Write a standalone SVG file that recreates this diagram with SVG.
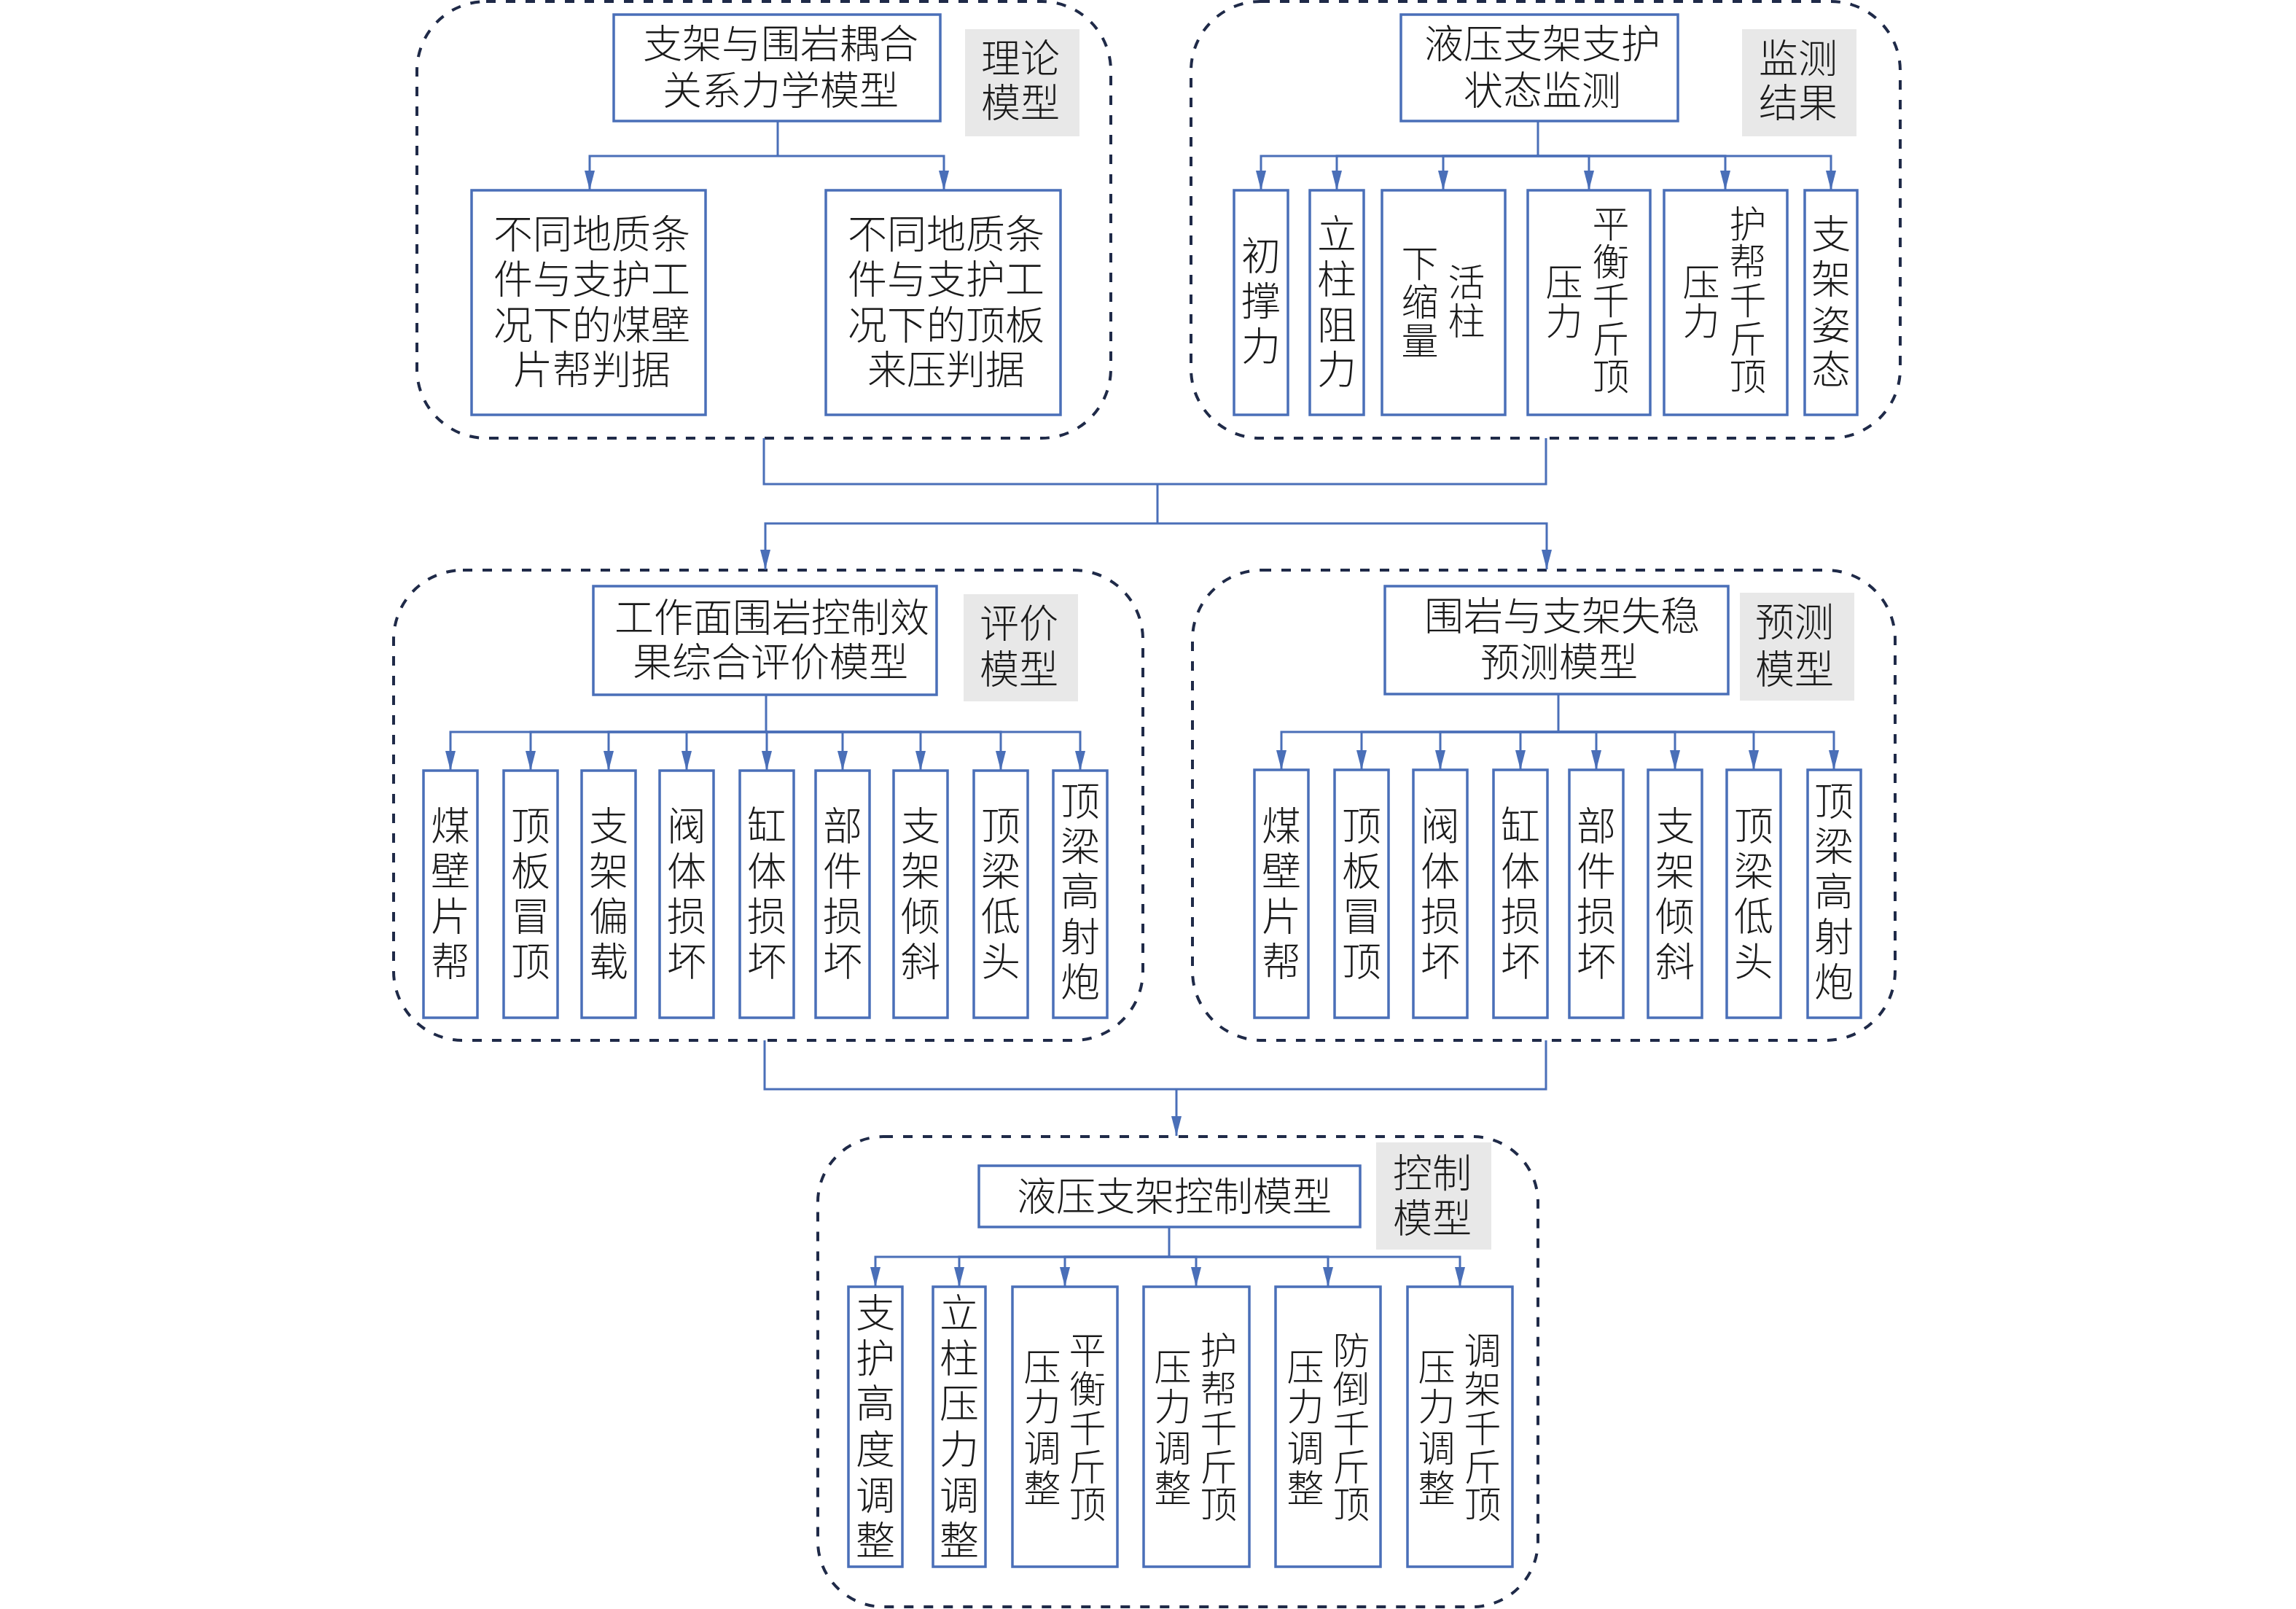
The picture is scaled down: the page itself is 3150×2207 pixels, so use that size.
<svg xmlns="http://www.w3.org/2000/svg" width="3150" height="2207" viewBox="0 0 3150 2207">
<defs>
<marker id="arr" markerUnits="userSpaceOnUse" viewBox="0 0 27 14" markerWidth="27" markerHeight="14" refX="27" refY="7" orient="auto"><path d="M0,0 L27,7 L0,14 z" fill="#4a6fb8"/></marker>
</defs>
<style>
.panel{fill:none;stroke:#1f2a48;stroke-width:4;stroke-dasharray:13 14}
.box{fill:#fff;stroke:#4a6fb8;stroke-width:3.5}
.tag{fill:#e8e8e8;stroke:none}
.t{font-family:"Liberation Sans","Noto Sans CJK SC","Noto Sans CJK JP",sans-serif;font-size:54px;font-weight:300;fill:#1a1a1a;text-anchor:middle;dominant-baseline:central}
.s{font-size:51px}
.conn path{fill:none;stroke:#4a6fb8;stroke-width:3}
.conn path.a{marker-end:url(#arr)}
</style>
<rect width="3150" height="2207" fill="#fff"/>

<g id="panel-theory">
<rect class="panel" x="572" y="2" width="952" height="599" rx="95"/>
<rect class="tag" x="1324" y="40" width="157" height="147"/>
<text class="t"><tspan x="1400" y="81">理论</tspan><tspan x="1400" y="142">模型</tspan></text>
</g>
<g id="n-coupling">
<rect class="box" x="842" y="20" width="448" height="146"/>
<text class="t"><tspan x="1071" y="61">支架与围岩耦合</tspan><tspan x="1071" y="125">关系力学模型</tspan></text>
</g>
<g id="n-rib">
<rect class="box" x="647" y="261" width="321" height="308"/>
<text class="t"><tspan x="812" y="322">不同地质条</tspan><tspan x="812" y="384">件与支护工</tspan><tspan x="812" y="447">况下的煤壁</tspan><tspan x="812" y="508">片帮判据</tspan></text>
</g>
<g id="n-roof">
<rect class="box" x="1133" y="261" width="322" height="308"/>
<text class="t"><tspan x="1298" y="322">不同地质条</tspan><tspan x="1298" y="384">件与支护工</tspan><tspan x="1298" y="447">况下的顶板</tspan><tspan x="1298" y="508">来压判据</tspan></text>
</g>

<g id="panel-monitor">
<rect class="panel" x="1634" y="2" width="973" height="599" rx="95"/>
<rect class="tag" x="2390" y="40" width="157" height="147"/>
<text class="t"><tspan x="2467" y="81">监测</tspan><tspan x="2467" y="142">结果</tspan></text>
</g>
<g id="n-monitor">
<rect class="box" x="1922" y="20" width="380" height="146"/>
<text class="t"><tspan x="2116" y="61">液压支架支护</tspan><tspan x="2116" y="125">状态监测</tspan></text>
</g>
<g id="n-m1">
<rect class="box" x="1693" y="261" width="74" height="308"/>
<text class="t"><tspan x="1730" y="352">初</tspan><tspan x="1730" y="414">撑</tspan><tspan x="1730" y="476">力</tspan></text>
</g>
<g id="n-m2">
<rect class="box" x="1797" y="261" width="74" height="308"/>
<text class="t"><tspan x="1834" y="322">立</tspan><tspan x="1834" y="384">柱</tspan><tspan x="1834" y="447">阻</tspan><tspan x="1834" y="508">力</tspan></text>
</g>
<g id="n-m3">
<rect class="box" x="1896" y="261" width="169" height="308"/>
<text class="t s"><tspan x="2012" y="388">活</tspan><tspan x="2012" y="441">柱</tspan><tspan x="1948" y="362">下</tspan><tspan x="1948" y="415">缩</tspan><tspan x="1948" y="468">量</tspan></text>
</g>
<g id="n-m4">
<rect class="box" x="2096" y="261" width="168" height="308"/>
<text class="t s"><tspan x="2210" y="308">平</tspan><tspan x="2210" y="360">衡</tspan><tspan x="2210" y="413">千</tspan><tspan x="2210" y="466">斤</tspan><tspan x="2210" y="517">顶</tspan><tspan x="2146" y="388">压</tspan><tspan x="2146" y="441">力</tspan></text>
</g>
<g id="n-m5">
<rect class="box" x="2283" y="261" width="169" height="308"/>
<text class="t s"><tspan x="2398" y="308">护</tspan><tspan x="2398" y="360">帮</tspan><tspan x="2398" y="413">千</tspan><tspan x="2398" y="466">斤</tspan><tspan x="2398" y="517">顶</tspan><tspan x="2334" y="388">压</tspan><tspan x="2334" y="441">力</tspan></text>
</g>
<g id="n-m6">
<rect class="box" x="2476" y="261" width="72" height="308"/>
<text class="t"><tspan x="2512" y="322">支</tspan><tspan x="2512" y="384">架</tspan><tspan x="2512" y="447">姿</tspan><tspan x="2512" y="508">态</tspan></text>
</g>

<g id="panel-eval">
<rect class="panel" x="540" y="782" width="1028" height="645" rx="95"/>
<rect class="tag" x="1322" y="815" width="157" height="147"/>
<text class="t"><tspan x="1398" y="856">评价</tspan><tspan x="1398" y="919">模型</tspan></text>
</g>
<g id="n-eval">
<rect class="box" x="814" y="804" width="471" height="149"/>
<text class="t"><tspan x="1059" y="848">工作面围岩控制效</tspan><tspan x="1057" y="909">果综合评价模型</tspan></text>
</g>
<g id="n-e1"><rect class="box" x="581" y="1057" width="74" height="339"/>
<text class="t"><tspan x="618" y="1134">煤</tspan><tspan x="618" y="1196">壁</tspan><tspan x="618" y="1258">片</tspan><tspan x="618" y="1320">帮</tspan></text></g>
<g id="n-e2"><rect class="box" x="691" y="1057" width="74" height="339"/>
<text class="t"><tspan x="728" y="1134">顶</tspan><tspan x="728" y="1196">板</tspan><tspan x="728" y="1258">冒</tspan><tspan x="728" y="1320">顶</tspan></text></g>
<g id="n-e3"><rect class="box" x="798" y="1057" width="74" height="339"/>
<text class="t"><tspan x="835" y="1134">支</tspan><tspan x="835" y="1196">架</tspan><tspan x="835" y="1258">偏</tspan><tspan x="835" y="1320">载</tspan></text></g>
<g id="n-e4"><rect class="box" x="905" y="1057" width="74" height="339"/>
<text class="t"><tspan x="942" y="1134">阀</tspan><tspan x="942" y="1196">体</tspan><tspan x="942" y="1258">损</tspan><tspan x="942" y="1320">坏</tspan></text></g>
<g id="n-e5"><rect class="box" x="1015" y="1057" width="74" height="339"/>
<text class="t"><tspan x="1052" y="1134">缸</tspan><tspan x="1052" y="1196">体</tspan><tspan x="1052" y="1258">损</tspan><tspan x="1052" y="1320">坏</tspan></text></g>
<g id="n-e6"><rect class="box" x="1119" y="1057" width="74" height="339"/>
<text class="t"><tspan x="1156" y="1134">部</tspan><tspan x="1156" y="1196">件</tspan><tspan x="1156" y="1258">损</tspan><tspan x="1156" y="1320">坏</tspan></text></g>
<g id="n-e7"><rect class="box" x="1226" y="1057" width="74" height="339"/>
<text class="t"><tspan x="1263" y="1134">支</tspan><tspan x="1263" y="1196">架</tspan><tspan x="1263" y="1258">倾</tspan><tspan x="1263" y="1320">斜</tspan></text></g>
<g id="n-e8"><rect class="box" x="1336" y="1057" width="74" height="339"/>
<text class="t"><tspan x="1373" y="1134">顶</tspan><tspan x="1373" y="1196">梁</tspan><tspan x="1373" y="1258">低</tspan><tspan x="1373" y="1320">头</tspan></text></g>
<g id="n-e9"><rect class="box" x="1445" y="1057" width="74" height="339"/>
<text class="t"><tspan x="1482" y="1100">顶</tspan><tspan x="1482" y="1162">梁</tspan><tspan x="1482" y="1224">高</tspan><tspan x="1482" y="1286">射</tspan><tspan x="1482" y="1348">炮</tspan></text></g>

<g id="panel-predict">
<rect class="panel" x="1636" y="782" width="964" height="645" rx="95"/>
<rect class="tag" x="2387" y="813" width="157" height="148"/>
<text class="t"><tspan x="2462" y="854">预测</tspan><tspan x="2462" y="919">模型</tspan></text>
</g>
<g id="n-predict">
<rect class="box" x="1900" y="804" width="471" height="148"/>
<text class="t"><tspan x="2143" y="846">围岩与支架失稳</tspan><tspan x="2139" y="909">预测模型</tspan></text>
</g>
<g id="n-p1"><rect class="box" x="1721" y="1056" width="74" height="340"/>
<text class="t"><tspan x="1758" y="1134">煤</tspan><tspan x="1758" y="1196">壁</tspan><tspan x="1758" y="1258">片</tspan><tspan x="1758" y="1320">帮</tspan></text></g>
<g id="n-p2"><rect class="box" x="1831" y="1056" width="74" height="340"/>
<text class="t"><tspan x="1868" y="1134">顶</tspan><tspan x="1868" y="1196">板</tspan><tspan x="1868" y="1258">冒</tspan><tspan x="1868" y="1320">顶</tspan></text></g>
<g id="n-p3"><rect class="box" x="1939" y="1056" width="74" height="340"/>
<text class="t"><tspan x="1976" y="1134">阀</tspan><tspan x="1976" y="1196">体</tspan><tspan x="1976" y="1258">损</tspan><tspan x="1976" y="1320">坏</tspan></text></g>
<g id="n-p4"><rect class="box" x="2049" y="1056" width="74" height="340"/>
<text class="t"><tspan x="2086" y="1134">缸</tspan><tspan x="2086" y="1196">体</tspan><tspan x="2086" y="1258">损</tspan><tspan x="2086" y="1320">坏</tspan></text></g>
<g id="n-p5"><rect class="box" x="2153" y="1056" width="74" height="340"/>
<text class="t"><tspan x="2190" y="1134">部</tspan><tspan x="2190" y="1196">件</tspan><tspan x="2190" y="1258">损</tspan><tspan x="2190" y="1320">坏</tspan></text></g>
<g id="n-p6"><rect class="box" x="2261" y="1056" width="74" height="340"/>
<text class="t"><tspan x="2298" y="1134">支</tspan><tspan x="2298" y="1196">架</tspan><tspan x="2298" y="1258">倾</tspan><tspan x="2298" y="1320">斜</tspan></text></g>
<g id="n-p7"><rect class="box" x="2369" y="1056" width="74" height="340"/>
<text class="t"><tspan x="2406" y="1134">顶</tspan><tspan x="2406" y="1196">梁</tspan><tspan x="2406" y="1258">低</tspan><tspan x="2406" y="1320">头</tspan></text></g>
<g id="n-p8"><rect class="box" x="2480" y="1056" width="73" height="340"/>
<text class="t"><tspan x="2516" y="1100">顶</tspan><tspan x="2516" y="1162">梁</tspan><tspan x="2516" y="1224">高</tspan><tspan x="2516" y="1286">射</tspan><tspan x="2516" y="1348">炮</tspan></text></g>

<g id="panel-control">
<rect class="panel" x="1122" y="1559" width="988" height="645" rx="90"/>
<rect class="tag" x="1888" y="1567" width="158" height="147"/>
<text class="t"><tspan x="1965" y="1610">控制</tspan><tspan x="1965" y="1672">模型</tspan></text>
</g>
<g id="n-control">
<rect class="box" x="1343" y="1599" width="523" height="84"/>
<text class="t" x="1611" y="1642">液压支架控制模型</text>
</g>
<g id="n-c1"><rect class="box" x="1164" y="1765" width="74" height="384"/>
<text class="t"><tspan x="1201" y="1802">支</tspan><tspan x="1201" y="1864">护</tspan><tspan x="1201" y="1926">高</tspan><tspan x="1201" y="1989">度</tspan><tspan x="1201" y="2052">调</tspan><tspan x="1201" y="2114">整</tspan></text></g>
<g id="n-c2"><rect class="box" x="1280" y="1765" width="72" height="384"/>
<text class="t"><tspan x="1316" y="1802">立</tspan><tspan x="1316" y="1864">柱</tspan><tspan x="1316" y="1926">压</tspan><tspan x="1316" y="1989">力</tspan><tspan x="1316" y="2052">调</tspan><tspan x="1316" y="2114">整</tspan></text></g>
<g id="n-c3"><rect class="box" x="1389" y="1765" width="144" height="384"/>
<text class="t s"><tspan x="1492" y="1853">平</tspan><tspan x="1492" y="1906">衡</tspan><tspan x="1492" y="1960">千</tspan><tspan x="1492" y="2013">斤</tspan><tspan x="1492" y="2064">顶</tspan><tspan x="1430" y="1876">压</tspan><tspan x="1430" y="1930">力</tspan><tspan x="1430" y="1987">调</tspan><tspan x="1430" y="2042">整</tspan></text></g>
<g id="n-c4"><rect class="box" x="1569" y="1765" width="145" height="384"/>
<text class="t s"><tspan x="1672" y="1853">护</tspan><tspan x="1672" y="1906">帮</tspan><tspan x="1672" y="1960">千</tspan><tspan x="1672" y="2013">斤</tspan><tspan x="1672" y="2064">顶</tspan><tspan x="1609" y="1876">压</tspan><tspan x="1609" y="1930">力</tspan><tspan x="1609" y="1987">调</tspan><tspan x="1609" y="2042">整</tspan></text></g>
<g id="n-c5"><rect class="box" x="1750" y="1765" width="144" height="384"/>
<text class="t s"><tspan x="1854" y="1853">防</tspan><tspan x="1854" y="1906">倒</tspan><tspan x="1854" y="1960">千</tspan><tspan x="1854" y="2013">斤</tspan><tspan x="1854" y="2064">顶</tspan><tspan x="1791" y="1876">压</tspan><tspan x="1791" y="1930">力</tspan><tspan x="1791" y="1987">调</tspan><tspan x="1791" y="2042">整</tspan></text></g>
<g id="n-c6"><rect class="box" x="1931" y="1765" width="144" height="384"/>
<text class="t s"><tspan x="2034" y="1853">调</tspan><tspan x="2034" y="1906">架</tspan><tspan x="2034" y="1960">千</tspan><tspan x="2034" y="2013">斤</tspan><tspan x="2034" y="2064">顶</tspan><tspan x="1971" y="1876">压</tspan><tspan x="1971" y="1930">力</tspan><tspan x="1971" y="1987">调</tspan><tspan x="1971" y="2042">整</tspan></text></g>

<g class="conn" id="connectors">
<path d="M1067,166 V214"/>
<path class="a" d="M1067,214 H809 V261"/>
<path class="a" d="M1067,214 H1295 V261"/>

<path d="M2110,166 V214"/>
<path class="a" d="M2110,214 H1730 V261"/>
<path class="a" d="M2110,214 H1834 V261"/>
<path class="a" d="M2110,214 H1980 V261"/>
<path class="a" d="M2110,214 H2180 V261"/>
<path class="a" d="M2110,214 H2367 V261"/>
<path class="a" d="M2110,214 H2512 V261"/>

<path d="M1048,601 V664 H2121 V601"/>
<path d="M1588,664 V718"/>
<path class="a" d="M1588,718 H1050 V781"/>
<path class="a" d="M1588,718 H2122 V781"/>

<path d="M1051,953 V1004"/>
<path class="a" d="M1051,1004 H618 V1057"/>
<path class="a" d="M1051,1004 H728 V1057"/>
<path class="a" d="M1051,1004 H835 V1057"/>
<path class="a" d="M1051,1004 H942 V1057"/>
<path class="a" d="M1051,1004 H1052 V1057"/>
<path class="a" d="M1051,1004 H1156 V1057"/>
<path class="a" d="M1051,1004 H1263 V1057"/>
<path class="a" d="M1051,1004 H1373 V1057"/>
<path class="a" d="M1051,1004 H1482 V1057"/>

<path d="M2138,952 V1004"/>
<path class="a" d="M2138,1004 H1758 V1056"/>
<path class="a" d="M2138,1004 H1868 V1056"/>
<path class="a" d="M2138,1004 H1976 V1056"/>
<path class="a" d="M2138,1004 H2086 V1056"/>
<path class="a" d="M2138,1004 H2190 V1056"/>
<path class="a" d="M2138,1004 H2298 V1056"/>
<path class="a" d="M2138,1004 H2406 V1056"/>
<path class="a" d="M2138,1004 H2516 V1056"/>

<path d="M1049,1427 V1494 H2121 V1427"/>
<path class="a" d="M1614,1494 V1558"/>

<path d="M1604,1683 V1724"/>
<path class="a" d="M1604,1724 H1201 V1765"/>
<path class="a" d="M1604,1724 H1316 V1765"/>
<path class="a" d="M1604,1724 H1461 V1765"/>
<path class="a" d="M1604,1724 H1641 V1765"/>
<path class="a" d="M1604,1724 H1822 V1765"/>
<path class="a" d="M1604,1724 H2003 V1765"/>
</g>
</svg>
